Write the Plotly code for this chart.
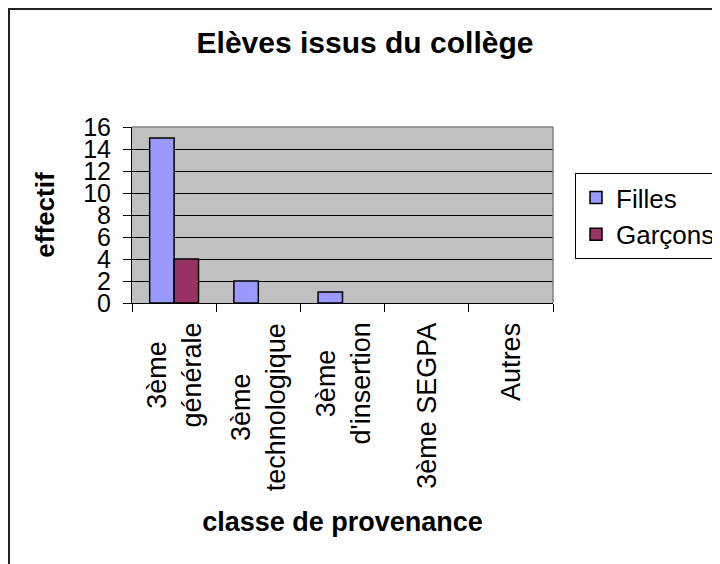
import plotly.graph_objects as go

categories = ["3ème<br>générale", "3ème<br>technologique", "3ème<br>d'insertion", "3ème SEGPA", "Autres"]
filles = [15, 2, 1, 0, 0]
garcons = [4, 0, 0, 0, 0]
y_ticks = [0, 2, 4, 6, 8, 10, 12, 14, 16]

FONT = "Arial, Liberation Sans, sans-serif"
W, H = 720, 564
OFF = 8  # page body margin
# plot area in page pixels (reference)
PX0, PX1, PY0, PY1 = 132, 553, 127, 303
L = PX0 - OFF
T = PY0 - OFF
R = W - (PX1 - OFF)
B = H - (PY1 - OFF)


def outline(vals):
    # Excel draws nothing for zero-height bars
    return [1.5 if v > 0 else 0 for v in vals]


fig = go.Figure()
fig.add_trace(go.Bar(name="Filles", x=categories, y=filles, legendgroup="f",
                     marker=dict(color="#9999FF", line=dict(color="black", width=outline(filles)))))
fig.add_trace(go.Bar(name="Garçons", x=categories, y=garcons, legendgroup="g",
                     marker=dict(color="#993366", line=dict(color="black", width=outline(garcons)))))

pw = PX1 - PX0
ph = PY1 - PY0


def px2paper_x(px):
    return (px - PX0) / pw


def px2paper_y(py):
    return (PY1 - py) / ph


shapes = [
    # outer chart border (left and top visible)
    dict(type="rect", xref="paper", yref="paper",
         x0=px2paper_x(OFF + 1), x1=px2paper_x(760), y0=px2paper_y(600), y1=px2paper_y(OFF + 1),
         line=dict(color="#222222", width=2), fillcolor="rgba(0,0,0,0)", layer="above"),
    # plot area top/right gray border
    dict(type="line", xref="paper", yref="paper", x0=0, x1=1, y0=1, y1=1,
         line=dict(color="#808080", width=1.5)),
    dict(type="line", xref="paper", yref="paper", x0=1, x1=1, y0=0, y1=1,
         line=dict(color="#808080", width=1.5)),
]

annotations = [
    dict(x=c, xref="x", y=0, yref="paper", yanchor="top", xanchor="center",
         yshift=-18, text=c, textangle=-90, align="center", showarrow=False,
         font=dict(family=FONT, size=27, color="black"))
    for c in categories
]

fig.update_layout(
    width=W, height=H,
    margin=dict(l=L, r=R, t=T, b=B, autoexpand=False),
    paper_bgcolor="white",
    plot_bgcolor="#C0C0C0",
    barmode="group", bargap=0.42, bargroupgap=0,
    font=dict(family=FONT, color="black"),
    title=dict(text="<b>Elèves issus du collège</b>", x=(365 - OFF) / W, xanchor="center",
               y=1 - (42 - OFF) / H, yanchor="middle", yref="container",
               font=dict(family=FONT, size=30, color="black")),
    xaxis=dict(type="category", showticklabels=False, ticks="outside", ticklen=8,
               tickcolor="black", tickson="boundaries", showline=True, linecolor="black",
               linewidth=1, showgrid=False,
               title=dict(text="<b>classe de provenance</b>", standoff=209,
                          font=dict(family=FONT, size=27, color="black"))),
    yaxis=dict(range=[0, 16], tickvals=y_ticks, ticks="outside", ticklen=8,
               tickcolor="black", showline=True, linecolor="black", linewidth=1,
               showgrid=True, gridcolor="black", gridwidth=1, zeroline=False,
               ticklabelstandoff=7,
               tickfont=dict(family=FONT, size=25, color="black"),
               title=dict(text="<b>effectif</b>", standoff=21,
                          font=dict(family=FONT, size=26, color="black"))),
    legend=dict(x=px2paper_x(575), xanchor="left", y=px2paper_y(173), yanchor="top",
                bordercolor="black", borderwidth=1, bgcolor="white",
                tracegroupgap=6, traceorder="normal",
                font=dict(family=FONT, size=26, color="black")),
    shapes=shapes,
    annotations=annotations,
)

fig.write_html("out.html")
